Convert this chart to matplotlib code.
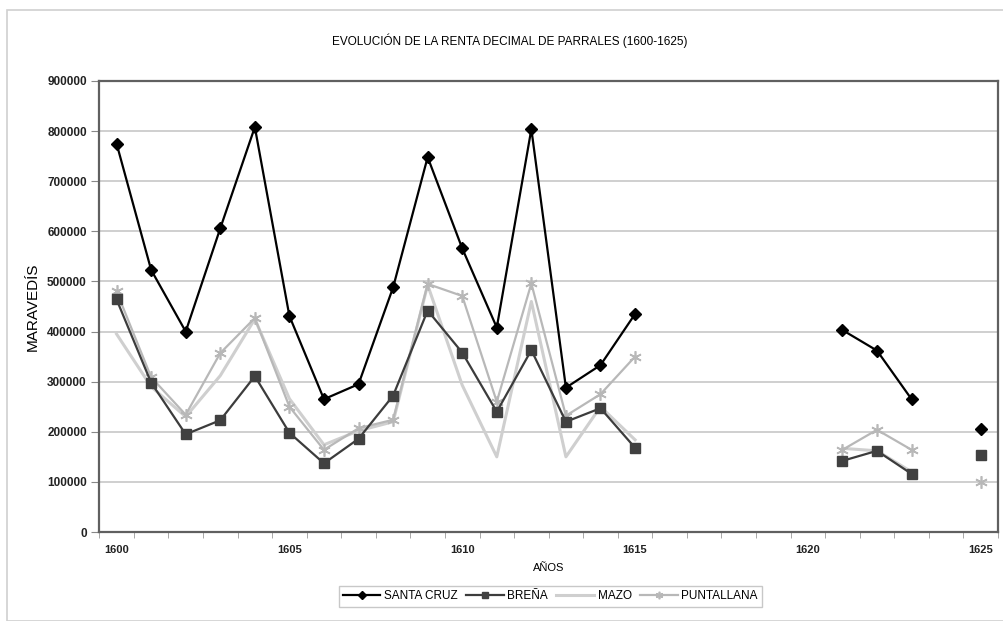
import numpy as np
import matplotlib
matplotlib.use("Agg")
import matplotlib.pyplot as plt
from matplotlib.patches import Rectangle

plt.rcParams['font.family'] = ['Liberation Sans', 'DejaVu Sans']

nan = np.nan
years = np.arange(1600, 1626)

santa_cruz = [775000, 523000, 400000, 606000, 808000, 431000, 265000, 295000, 488000,
              748000, 566000, 408000, 804000, 288000, 333000, 435000,
              nan, nan, nan, nan, nan, 403000, 362000, 265000, nan, 205000]
brena = [464000, 298000, 195000, 223000, 311000, 198000, 137000, 186000, 272000,
         442000, 358000, 240000, 363000, 220000, 247000, 168000,
         nan, nan, nan, nan, nan, 142000, 162000, 116000, nan, 154000]
mazo = [395000, 290000, 230000, 312000, 425000, 266000, 174000, 202000, 220000,
        493000, 293000, 150000, 460000, 150000, 250000, 184000,
        nan, nan, nan, nan, nan, 167000, 162000, 120000, nan, nan]
puntallana = [480000, 309000, 234000, 357000, 427000, 250000, 164000, 207000, 224000,
              495000, 471000, 260000, 496000, 232000, 275000, 350000,
              nan, nan, nan, nan, nan, 164000, 204000, 164000, nan, 100000]

year_labels = [1600, 1605, 1610, 1615, 1620, 1625]

fig = plt.figure(figsize=(10.04, 6.21), dpi=100)
ax = fig.add_axes([0.0989, 0.1433, 0.8951, 0.7263])

# outer chart frame
fig.patches.append(Rectangle((0.007, 0.0), 0.993, 0.984, transform=fig.transFigure,
                             fill=False, edgecolor='#d0d0d0', linewidth=1.2))

ax.plot(years, mazo, color='#cfcfcf', lw=2.2, label='MAZO', zorder=2)
ax.plot(years, puntallana, color='#b8b8b8', lw=1.6, marker=(6, 2, 0), ms=9,
        mew=1.2, mec='#b8b8b8', label='PUNTALLANA', zorder=3)
ax.plot(years, brena, color='#3c3c3c', lw=1.6, marker='s', ms=7, mfc='#404040',
        mec='#404040', label='BREÑA', zorder=4)
ax.plot(years, santa_cruz, color='#000000', lw=1.6, marker='D', ms=6.5,
        label='SANTA CRUZ', zorder=5)

ax.set_xlim(1599.5, 1625.5)
ax.set_ylim(0, 900000)
ax.set_yticks(np.arange(0, 900001, 100000))
ax.set_yticklabels([str(v) for v in range(0, 900001, 100000)],
                   fontsize=8.5, fontweight='bold', color='#222222')
ax.yaxis.grid(True, color='#cccccc', lw=1.3)
ax.set_axisbelow(True)

ax.set_xticks(year_labels)
ax.set_xticklabels([str(y) for y in year_labels], fontsize=8, fontweight='bold',
                   color='#222222')
ax.set_xticks(np.arange(1599.5, 1626, 1), minor=True)
ax.tick_params(axis='x', which='major', length=0, pad=9)
ax.tick_params(axis='x', which='minor', length=4, color='#999999', direction='out')
ax.tick_params(axis='y', length=6, color='#888888', pad=3)

for s in ax.spines.values():
    s.set_color('#606060')
    s.set_linewidth(1.6)

ax.set_xlabel('AÑOS', fontsize=8, labelpad=6)
ax.set_ylabel('MARAVEDÍS', fontsize=11, labelpad=5)
fig.text(0.508, 0.935, 'EVOLUCIÓN DE LA RENTA DECIMAL DE PARRALES (1600-1625)',
         ha='center', va='center', fontsize=8.5)

handles, labels = ax.get_legend_handles_labels()
order = [3, 2, 0, 1]
leg = fig.legend([handles[i] for i in order], [labels[i] for i in order],
                 loc='center', bbox_to_anchor=(0.548, 0.0395), ncol=4, fontsize=8.5,
                 frameon=True, fancybox=False, edgecolor='#bbbbbb',
                 handlelength=3.2, handletextpad=0.3, columnspacing=0.7,
                 borderpad=0.35, markerscale=0.6)
leg.get_frame().set_linewidth(1.0)

fig.savefig('out.png', dpi=100)
